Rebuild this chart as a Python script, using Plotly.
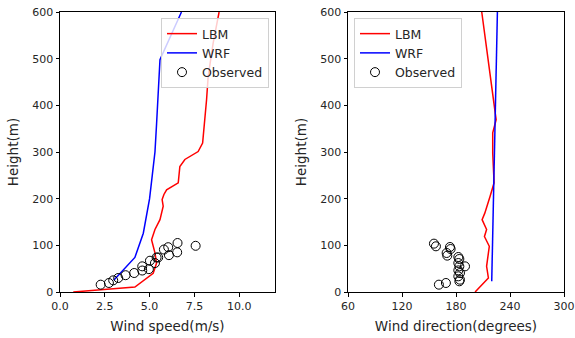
import plotly.graph_objects as go

# Wind speed profile (left)
lbm_speed = [0.74, 4.18, 5.2, 5.39, 5.3, 5.11, 5.3, 5.58, 5.76, 5.7, 5.8, 5.95, 6.6, 6.69, 6.97, 7.71, 7.96, 8.09, 8.18, 8.27, 8.55, 8.88]
lbm_speed_h = [0, 10.7, 40, 62, 84, 112, 134, 155, 184, 198, 209, 219, 234, 269, 284, 301, 319, 369, 412, 462, 534, 600]
wrf_speed = [3.0, 4.18, 4.65, 4.83, 5.0, 5.15, 5.3, 5.39, 5.48, 5.58, 6.78]
wrf_speed_h = [25, 74, 126, 169, 200, 250, 300, 360, 430, 498, 600]
obs_speed = [2.27, 2.73, 2.97, 3.25, 3.66, 4.14, 4.59, 4.59, 4.96, 5.02, 5.30, 5.39, 5.48, 5.80, 6.04, 6.08, 6.56, 6.54, 7.57]
obs_speed_h = [15.7, 19.3, 25, 30, 36, 40.7, 46, 55, 49, 67, 62, 74, 74, 91, 96, 79, 105, 85, 99]

# Wind direction profile (right)
lbm_dir = [201.2, 216, 214, 217, 211.6, 214, 209, 212, 217.9, 222.3, 220.8, 220.8, 224.6, 208.6]
lbm_dir_h = [0, 30, 55, 98, 119, 134, 155, 169, 205, 234, 298, 341, 369, 600]
wrf_dir = [219.7, 226]
wrf_dir_h = [23, 600]
obs_dir = [155.5, 157.7, 173.3, 174.0, 169.6, 170.3, 182.6, 183.7, 182.6, 190.0, 183.7, 182.6, 184.4, 182.6, 184.4, 183.7, 161.0, 168.8]
obs_dir_h = [103.6, 97.9, 96.4, 92.1, 83.6, 77.9, 75, 70.7, 62.1, 55, 55, 46.4, 40.7, 33.6, 26.4, 22.9, 15.7, 19.3]

speed_ticks = [0, 2.5, 5, 7.5, 10]
speed_ticktext = ["0.0", "2.5", "5.0", "7.5", "10.0"]
dir_ticks = [60, 120, 180, 240, 300]
height_ticks = [0, 100, 200, 300, 400, 500, 600]

fig = go.Figure()
marker = dict(symbol="circle-open", size=9, color="black", line=dict(width=1, color="black"))

fig.add_trace(go.Scatter(x=lbm_speed, y=lbm_speed_h, mode="lines", name="LBM",
                         line=dict(color="red", width=1.5), xaxis="x", yaxis="y", legend="legend"))
fig.add_trace(go.Scatter(x=wrf_speed, y=wrf_speed_h, mode="lines", name="WRF",
                         line=dict(color="blue", width=1.5), xaxis="x", yaxis="y", legend="legend"))
fig.add_trace(go.Scatter(x=obs_speed, y=obs_speed_h, mode="markers", name="Observed",
                         marker=marker, xaxis="x", yaxis="y", legend="legend"))

fig.add_trace(go.Scatter(x=lbm_dir, y=lbm_dir_h, mode="lines", name="LBM",
                         line=dict(color="red", width=1.5), xaxis="x2", yaxis="y2", legend="legend2"))
fig.add_trace(go.Scatter(x=wrf_dir, y=wrf_dir_h, mode="lines", name="WRF",
                         line=dict(color="blue", width=1.5), xaxis="x2", yaxis="y2", legend="legend2"))
fig.add_trace(go.Scatter(x=obs_dir, y=obs_dir_h, mode="markers", name="Observed",
                         marker=marker, xaxis="x2", yaxis="y2", legend="legend2"))

TEXT = "#262626"
axis_common = dict(showgrid=False, zeroline=False, showline=True, linecolor="black", linewidth=1,
                   mirror=True, ticks="outside", ticklen=3.5, tickcolor="black", automargin=False,
                   tickfont=dict(size=11, color=TEXT))
title_font = dict(size=13.5, color=TEXT)
legend_common = dict(bgcolor="rgba(255,255,255,0.8)", bordercolor="#d0d0d0", borderwidth=1,
                     font=dict(size=12.5, color=TEXT), tracegroupgap=0, itemwidth=30,
                     yanchor="top", xref="paper", yref="paper")

W, H = 575, 338
top, bottom = 12, 292
fig.update_layout(
    width=W, height=H,
    margin=dict(l=0, r=0, t=top, b=H - bottom, autoexpand=False),
    paper_bgcolor="white", plot_bgcolor="white",
    font=dict(family="DejaVu Sans", size=11, color=TEXT),
    xaxis=dict(domain=[60 / W, 275 / W], range=[0, 12], tickvals=speed_ticks,
               ticktext=speed_ticktext,
               title=dict(text="Wind speed(m/s)", standoff=9, font=title_font), anchor="y", **axis_common),
    yaxis=dict(range=[0, 600], tickvals=height_ticks, anchor="x",
               title=dict(text="Height(m)", standoff=10, font=title_font), **axis_common),
    xaxis2=dict(domain=[348 / W, 564 / W], range=[60, 300], tickvals=dir_ticks,
                title=dict(text="Wind direction(degrees)", standoff=9, font=title_font), anchor="y2",
                **axis_common),
    yaxis2=dict(range=[0, 600], tickvals=height_ticks, anchor="x2",
                title=dict(text="Height(m)", standoff=10, font=title_font), **axis_common),
    legend=dict(x=269 / W, y=(292 - 18) / 280, xanchor="right", **legend_common),
    legend2=dict(x=354 / W, y=(292 - 18) / 280, xanchor="left", **legend_common),
    showlegend=True,
)

# remove the default page margin so the 575x338 figure fills the window exactly
fig.write_html("out.html", config={"displayModeBar": False},
               post_script="document.body.style.margin='0';document.body.style.overflow='hidden';")
